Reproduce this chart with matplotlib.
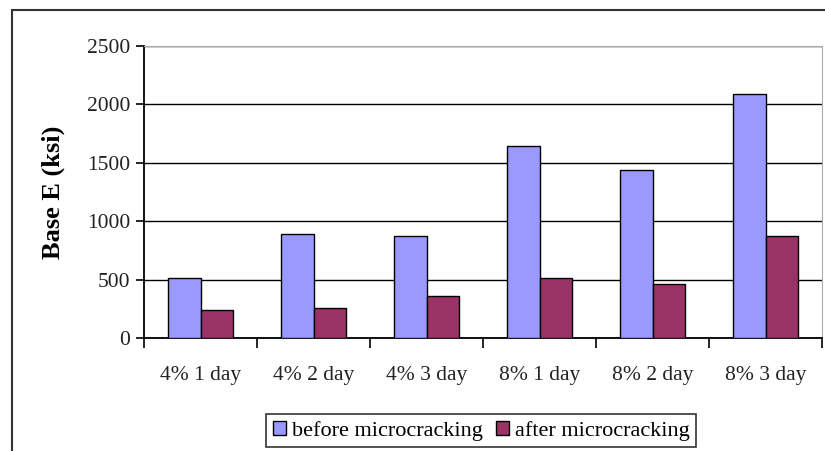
import matplotlib
matplotlib.use('Agg')
import matplotlib.pyplot as plt
from matplotlib.patches import Rectangle
import numpy as np

categories = ['4% 1 day', '4% 2 day', '4% 3 day', '8% 1 day', '8% 2 day', '8% 3 day']
before = [515, 890, 875, 1645, 1440, 2090]
after = [240, 258, 360, 515, 462, 873]

plt.rcParams['font.family'] = ['Liberation Serif', 'DejaVu Serif']

fig = plt.figure(figsize=(8.25, 4.51), dpi=100)
ax = fig.add_axes([144/825, 1-338/451, (822-144)/825, (338-46)/451])

# outer chart frame (cut off at right and bottom like the reference)
fig.patches.append(Rectangle((12/825, -0.05), 1.0, 1-10/451+0.05, transform=fig.transFigure,
                             fill=False, edgecolor='#333333', linewidth=1.5))

x = np.arange(len(categories))
w = 0.29
ax.bar(x - w/2, before, w, color='#9999FF', edgecolor='black', linewidth=1,
       label='before microcracking', zorder=3)
ax.bar(x + w/2, after, w, color='#993366', edgecolor='black', linewidth=1,
       label='after microcracking', zorder=3)

ax.set_xlim(-0.5, len(categories) - 0.5)
ax.set_ylim(0, 2500)
ax.set_yticks(range(0, 2501, 500))
ax.yaxis.grid(True, color='black', linewidth=1, zorder=0)
ax.set_axisbelow(True)

ax.set_xticks(x)
ax.set_xticklabels(categories, fontsize=15.5, color='#222222')
ax.set_xticks(np.arange(-0.5, len(categories)), minor=True)
ax.tick_params(axis='x', which='major', length=0, pad=20)
ax.tick_params(axis='x', which='minor', length=7, width=1.2, direction='out')
ax.tick_params(axis='y', length=6, width=1.2, labelsize=15.5, labelcolor='#222222', pad=4)

ax.spines['left'].set_linewidth(1.3)
ax.spines['bottom'].set_linewidth(1.3)
ax.spines['top'].set_color('#aaaaaa')
ax.spines['right'].set_color('#aaaaaa')

ax.set_ylabel('Base E (ksi)', fontsize=19, fontweight='bold', labelpad=16)

leg = fig.legend(loc='upper center', bbox_to_anchor=(481/825, 1-403/451), ncol=2,
                 fontsize=16, frameon=True, fancybox=False, edgecolor='black',
                 handlelength=0.6, handleheight=0.6, handletextpad=0.25,
                 columnspacing=0.6, borderpad=0.3)
leg.get_frame().set_linewidth(1.2)

fig.savefig('out.png', dpi=100)
